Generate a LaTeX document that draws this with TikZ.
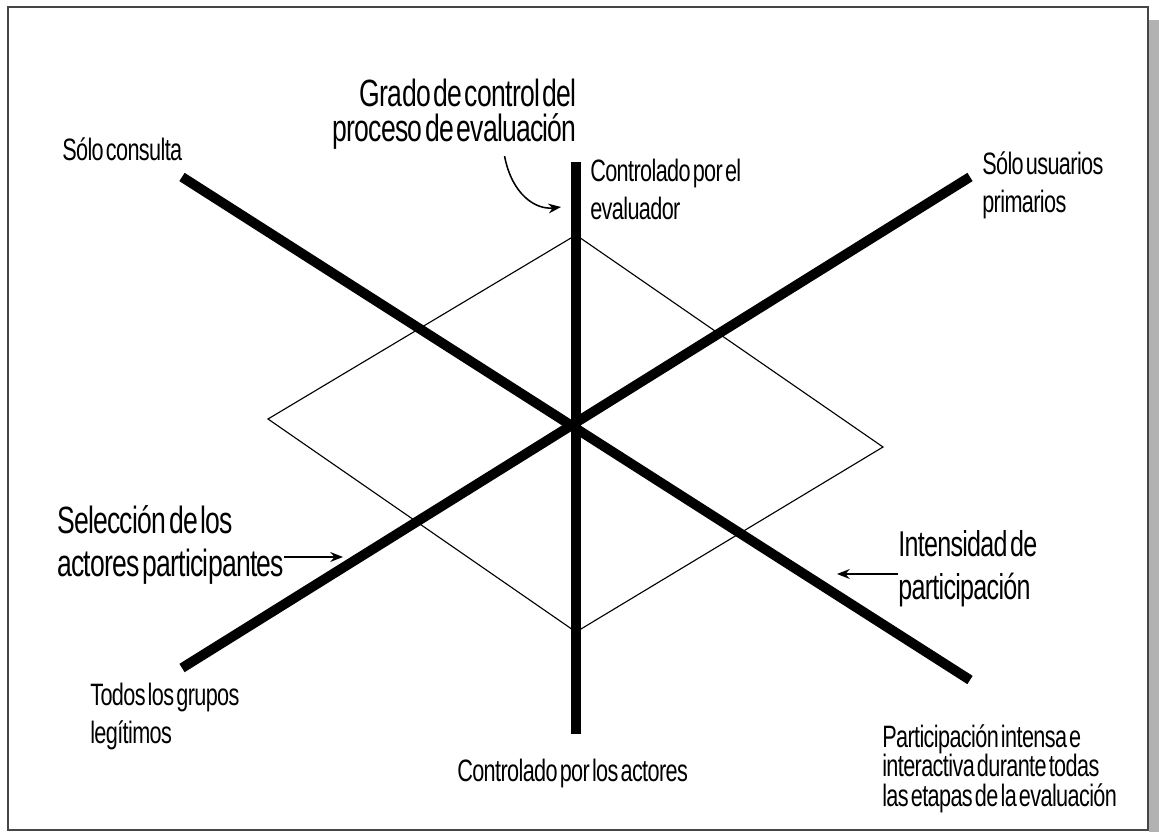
\documentclass[tikz,border=0pt]{standalone}
\usepackage{xcolor}
\usepackage{fontspec}
\setmainfont{Liberation Sans}[FakeStretch=0.7, LetterSpace=-2, WordSpace=0.4]
\usepackage{tikz}
\usetikzlibrary{arrows.meta, positioning}
\definecolor{framegray}{RGB}{70,70,70}
\definecolor{shadowgray}{RGB}{178,178,178}

\begin{document}
\begin{tikzpicture}[x=0.025cm, y=-0.025cm,
    axis/.style={line width=7pt, black},
    rombo/.style={line width=0.8pt, black},
    pointer/.style={-{Stealth[length=9pt, width=7pt]}, line width=1.1pt},
    smalllbl/.style={inner sep=0pt, align=left, font=\fontsize{22}{27}\selectfont},
    biglbl/.style={inner sep=0pt, font=\fontsize{27}{25}\selectfont}]

    % marco con sombra
    \useasboundingbox (0,0) rectangle (1159,832);
    \fill[shadowgray] (1149,20) rectangle (1159,832);
    \draw[framegray, line width=1.4pt] (8,7) rectangle (1148,830);

    % ejes y rombo
    \coordinate (c) at (576,428);
    \coordinate (vtop) at (576,162);
    \coordinate (vbot) at (576,734);
    \coordinate (nw) at (182,177);
    \coordinate (se) at (970,680);
    \coordinate (sw) at (182,668);
    \coordinate (ne) at (970,177);
    \coordinate (dn) at (576,235);
    \coordinate (de) at (883,447);
    \coordinate (ds) at (576,632);
    \coordinate (dw) at (268,419);

    \draw[rombo] (dn) -- (de) -- (ds) -- (dw) -- cycle;
    \draw[axis] (vtop) -- (vbot);
    \draw[axis] (nw) -- (se);
    \draw[axis] (sw) -- (ne);

    % etiquetas
    \node[biglbl, align=right, anchor=north east] (grado) at (577,79) {Grado de control del\\proceso de evaluación};
    \node[smalllbl, anchor=north west] (ctrleval) at (590,159) {Controlado por el\\evaluador};
    \node[smalllbl, anchor=north west] (consulta) at (62,137) {Sólo consulta};
    \node[smalllbl, anchor=north west] (usuarios) at (982,151) {Sólo usuarios\\primarios};
    \node[biglbl, align=left, anchor=north west, font=\fontsize{27}{31}\selectfont] (seleccion) at (57,505) {Selección de los\\actores participantes};
    \node[biglbl, align=left, anchor=north west, font=\fontsize{25.5}{31}\selectfont] (intensidad) at (898,530) {Intensidad de\\participación};
    \node[smalllbl, anchor=north west] (todos) at (90,683) {Todos los grupos\\legítimos};
    \node[smalllbl, anchor=north west] (ctrlactores) at (457,759) {Controlado por los actores};
    \node[smalllbl, anchor=north west, font=\fontsize{22}{21}\selectfont] (intensa) at (882,724) {Participación intensa e\\interactiva durante todas\\las etapas de la evaluación};

    % flechas
    \coordinate (gradotip) at (561,207);
    \coordinate (seltip) at (343,557);
    \coordinate (inttip) at (837,574);
    \draw[pointer] ([xshift=1.25cm, yshift=-0.15cm]grado.south) .. controls (512,195) and (536,210) .. (gradotip);
    \draw[pointer] (seltip -| seleccion.east) -- (seltip);
    \draw[pointer] (inttip -| intensidad.west) -- (inttip);
\end{tikzpicture}
\end{document}
